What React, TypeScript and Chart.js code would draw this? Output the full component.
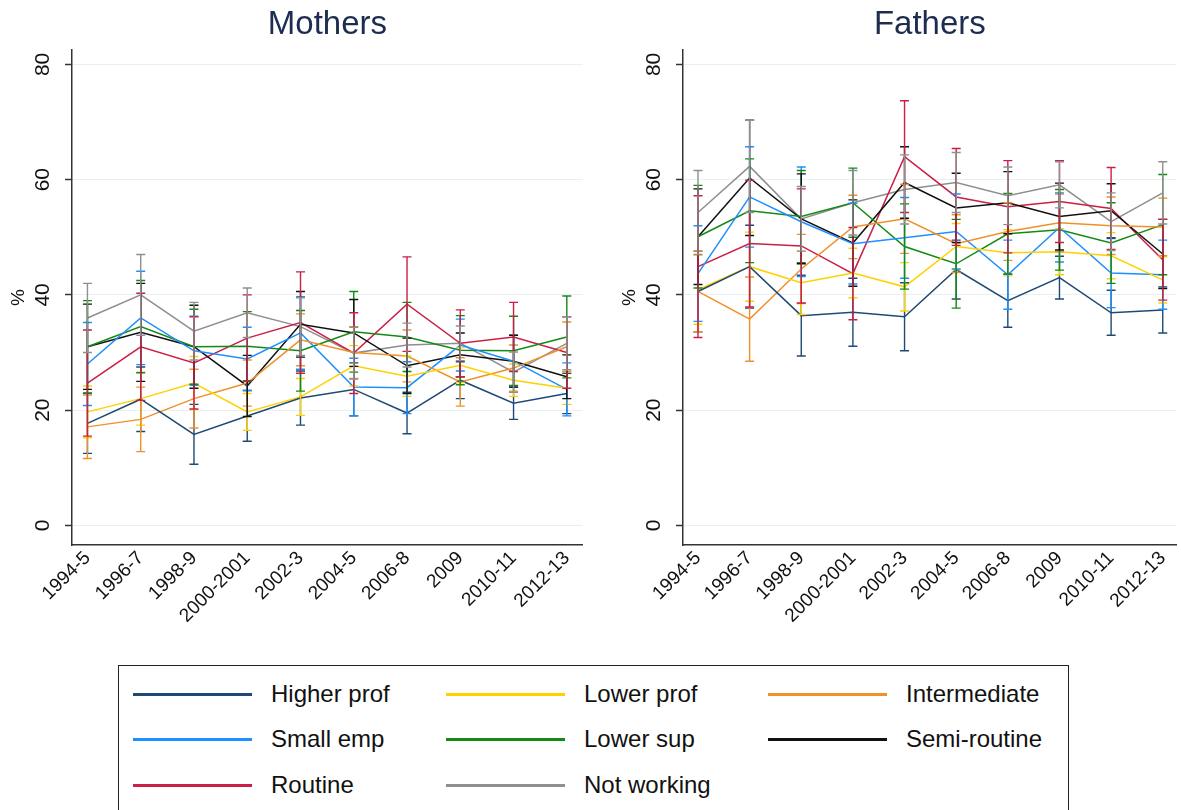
import React, { useEffect, useRef } from "react";
import { Chart, registerables } from "chart.js";

Chart.register(...registerables);

const FONT = "'Liberation Sans', Arial, sans-serif";

const periods = ["1994-5", "1996-7", "1998-9", "2000-2001", "2002-3", "2004-5", "2006-8", "2009", "2010-11", "2012-13"];
const yTicks = [0, 20, 40, 60, 80];
const classes = ["Higher prof", "Lower prof", "Intermediate", "Small emp", "Lower sup", "Semi-routine", "Routine", "Not working"];
const colours = ["#1f4a75", "#ffd100", "#f0902a", "#1e8fff", "#138a13", "#111111", "#cc1f45", "#8f8f8f"];

// mothers, estimate (%)
const mHigherProf = [17.7, 21.9, 15.8, 19.0, 22.1, 23.6, 19.5, 25.2, 21.2, 22.9];
const mLowerProf = [19.7, 22.0, 24.7, 19.7, 22.3, 27.7, 25.9, 27.8, 25.2, 23.8];
const mIntermediate = [17.1, 18.4, 22.0, 24.7, 32.2, 30.0, 29.4, 24.9, 27.3, 31.0];
const mSmallEmp = [28.0, 36.0, 30.3, 28.9, 33.4, 24.0, 23.9, 31.3, 28.5, 23.6];
const mLowerSup = [31.0, 34.5, 31.0, 31.1, 30.3, 33.6, 32.7, 30.4, 30.3, 32.7];
const mSemiRoutine = [31.0, 33.5, 31.0, 24.2, 34.9, 33.4, 27.7, 29.6, 28.5, 25.8];
const mRoutine = [24.7, 31.0, 28.2, 32.5, 35.2, 29.9, 38.4, 31.6, 32.7, 30.0];
const mNotWorking = [36.0, 40.0, 33.7, 36.9, 34.5, 29.9, 31.3, 31.6, 26.6, 31.6];

// mothers, half width of the confidence interval
const mHigherProfCi = [5.2, 5.6, 5.2, 4.4, 4.7, 4.6, 3.6, 3.2, 2.8, 3.5];
const mLowerProfCi = [4.5, 4.6, 4.6, 3.2, 3.2, 3.5, 3.5, 3.0, 2.8, 2.8];
const mIntermediateCi = [5.5, 5.6, 5.1, 4.0, 4.5, 4.5, 4.5, 4.2, 4.0, 4.3];
const mSmallEmpCi = [7.2, 8.1, 6.0, 5.5, 6.3, 5.0, 4.5, 4.5, 4.5, 4.6];
const mLowerSupCi = [8.0, 8.0, 6.5, 6.0, 7.0, 7.0, 6.0, 6.0, 6.0, 7.1];
const mSemiRoutineCi = [7.4, 8.5, 7.2, 5.3, 5.7, 5.8, 4.8, 3.8, 4.5, 3.8];
const mRoutineCi = [9.2, 9.3, 8.0, 7.5, 8.8, 7.0, 8.2, 5.8, 6.0, 6.2];
const mNotWorkingCi = [6.0, 7.0, 5.0, 4.3, 5.0, 4.5, 3.8, 3.0, 3.5, 4.6];

// fathers, estimate (%)
const fHigherProf = [40.6, 44.9, 36.4, 37.0, 36.2, 44.4, 39.0, 43.0, 36.9, 37.4];
const fLowerProf = [40.9, 44.9, 42.1, 43.8, 41.4, 48.4, 47.3, 47.5, 46.8, 42.6];
const fIntermediate = [40.6, 35.8, 44.5, 51.8, 53.2, 48.9, 51.0, 52.5, 52.0, 51.8];
const fSmallEmp = [43.7, 57.0, 52.7, 48.9, 49.9, 51.0, 43.5, 51.7, 43.8, 43.5];
const fLowerSup = [50.1, 54.6, 53.6, 56.0, 48.4, 45.4, 50.6, 51.3, 49.0, 52.2];
const fSemiRoutine = [50.1, 60.3, 53.2, 49.0, 59.5, 55.1, 56.0, 53.6, 54.6, 47.1];
const fRoutine = [44.9, 48.9, 48.5, 43.7, 64.0, 57.0, 55.3, 56.2, 55.0, 46.1];
const fNotWorking = [54.3, 62.3, 53.2, 56.0, 58.3, 59.5, 57.2, 59.1, 52.7, 57.7];

// fathers, half width of the confidence interval
const fHigherProfCi = [7.0, 7.2, 7.0, 5.9, 5.9, 5.1, 4.6, 3.7, 3.9, 4.0];
const fLowerProfCi = [6.0, 6.0, 5.5, 4.3, 4.2, 4.0, 4.0, 4.0, 4.0, 4.0];
const fIntermediateCi = [7.0, 7.3, 6.0, 5.5, 6.0, 5.0, 5.0, 5.0, 5.0, 5.0];
const fSmallEmpCi = [8.3, 8.7, 9.5, 7.0, 7.0, 6.5, 6.0, 6.0, 6.0, 6.0];
const fLowerSupCi = [8.9, 9.0, 8.0, 6.0, 7.4, 7.7, 7.0, 7.0, 7.0, 8.7];
const fSemiRoutineCi = [8.3, 10.0, 7.8, 7.5, 6.2, 6.0, 5.4, 5.8, 4.7, 6.0];
const fRoutineCi = [12.3, 11.0, 9.9, 8.0, 9.7, 8.4, 8.0, 7.1, 7.1, 7.0];
const fNotWorkingCi = [7.3, 8.0, 5.6, 5.6, 6.0, 5.2, 5.0, 4.0, 5.0, 5.4];

const mothersValues = [mHigherProf, mLowerProf, mIntermediate, mSmallEmp, mLowerSup, mSemiRoutine, mRoutine, mNotWorking];
const mothersCi = [mHigherProfCi, mLowerProfCi, mIntermediateCi, mSmallEmpCi, mLowerSupCi, mSemiRoutineCi, mRoutineCi, mNotWorkingCi];
const fathersValues = [fHigherProf, fLowerProf, fIntermediate, fSmallEmp, fLowerSup, fSemiRoutine, fRoutine, fNotWorking];
const fathersCi = [fHigherProfCi, fLowerProfCi, fIntermediateCi, fSmallEmpCi, fLowerSupCi, fSemiRoutineCi, fRoutineCi, fNotWorkingCi];

// draws the CI whiskers with caps
const errorBars = {
  id: "errorBars",
  afterDatasetsDraw(chart: any) {
    const ctx = chart.ctx;
    const yScale = chart.scales.y;
    chart.data.datasets.forEach((ds: any, i: number) => {
      const meta = chart.getDatasetMeta(i);
      ctx.save();
      ctx.strokeStyle = ds.borderColor;
      ctx.lineWidth = 1.4;
      meta.data.forEach((pt: any, j: number) => {
        const v = ds.data[j].y;
        const top = yScale.getPixelForValue(v + ds.ci[j]);
        const bot = yScale.getPixelForValue(v - ds.ci[j]);
        ctx.beginPath();
        ctx.moveTo(pt.x, top);
        ctx.lineTo(pt.x, bot);
        ctx.moveTo(pt.x - 4.5, top);
        ctx.lineTo(pt.x + 4.5, top);
        ctx.moveTo(pt.x - 4.5, bot);
        ctx.lineTo(pt.x + 4.5, bot);
        ctx.stroke();
      });
      ctx.restore();
    });
  },
};

function Panel({ title, values, ci, left, width, xMax }: any) {
  const canvasRef = useRef<HTMLCanvasElement>(null);

  useEffect(() => {
    if (!canvasRef.current) return;
    const chart = new Chart(canvasRef.current, {
      type: "line",
      data: {
        datasets: classes.map((name, k) => ({
          label: name,
          data: values[k].map((y: number, i: number) => ({ x: i, y })),
          ci: ci[k],
          borderColor: colours[k],
          borderWidth: 1.5,
          pointRadius: 0,
          tension: 0,
          fill: false,
        })) as any,
      },
      options: {
        animation: false,
        responsive: true,
        maintainAspectRatio: false,
        layout: { padding: { left: 0, right: 0, top: 0, bottom: 0 } },
        plugins: {
          legend: { display: false },
          tooltip: { enabled: false },
          title: {
            display: true,
            fullSize: false,
            text: title,
            color: "#1c2d50",
            font: { family: FONT, size: 33, weight: "normal" },
            padding: { top: 5.5, bottom: 4.9 },
          },
        },
        scales: {
          x: {
            type: "linear",
            min: -0.29,
            max: xMax,
            afterBuildTicks: (axis: any) => {
              axis.ticks = periods.map((_, i) => ({ value: i }));
            },
            afterFit: (axis: any) => {
              axis.height = 110;
            },
            grid: { display: false, drawTicks: false },
            border: { display: true, color: "#333", width: 1.5 },
            ticks: {
              autoSkip: false,
              minRotation: 45,
              maxRotation: 45,
              padding: 2,
              color: "#111",
              font: { family: FONT, size: 19 },
              callback: (v: any) => periods[v] ?? "",
            },
          },
          y: {
            type: "linear",
            min: -3.4,
            max: 82.5,
            afterBuildTicks: (axis: any) => {
              axis.ticks = yTicks.map((v) => ({ value: v }));
            },
            afterFit: (axis: any) => {
              axis.width = 72;
            },
            title: {
              display: true,
              text: "%",
              color: "#111",
              font: { family: FONT, size: 19 },
              padding: { top: 7, bottom: 0 },
            },
            grid: { color: "#e8f0f2", lineWidth: 1, drawTicks: true, tickLength: 7, tickColor: "#333", tickWidth: 1.5 },
            border: { display: true, color: "#333", width: 1.5 },
            ticks: {
              minRotation: 90,
              maxRotation: 90,
              crossAlign: "center",
              padding: 10,
              color: "#111",
              font: { family: FONT, size: 21 },
            },
          },
        },
      },
      plugins: [errorBars],
    } as any);
    return () => chart.destroy();
  }, []);

  return (
    <div style={{ position: "absolute", left, top: 0, width, height: 655 }}>
      <canvas ref={canvasRef} />
    </div>
  );
}

const legendCols = [133, 446, 768];
const legendRows = [694, 739, 785];

function Legend() {
  return (
    <>
      <div
        style={{
          position: "absolute",
          left: 118,
          top: 665,
          width: 951,
          height: 170,
          border: "1.5px solid #222",
          boxSizing: "border-box",
        }}
      />
      {classes.map((name, k) => {
        const x = legendCols[k % 3];
        const y = legendRows[Math.floor(k / 3)];
        return (
          <React.Fragment key={name}>
            <div style={{ position: "absolute", left: x, top: y - 1.5, width: 119, height: 3, background: colours[k] }} />
            <div
              style={{
                position: "absolute",
                left: x + 138,
                top: y - 15,
                fontFamily: FONT,
                fontSize: 24,
                lineHeight: "30px",
                color: "#111",
                whiteSpace: "nowrap",
              }}
            >
              {name}
            </div>
          </React.Fragment>
        );
      })}
    </>
  );
}

export default function App() {
  return (
    <div style={{ position: "fixed", left: 0, top: 0, width: 1181, height: 810, background: "#fff", overflow: "hidden" }}>
      <Panel title="Mothers" values={mothersValues} ci={mothersCi} left={0} width={585} xMax={9.3} />
      <Panel title="Fathers" values={fathersValues} ci={fathersCi} left={611} width={570} xMax={9.27} />
      <Legend />
    </div>
  );
}
